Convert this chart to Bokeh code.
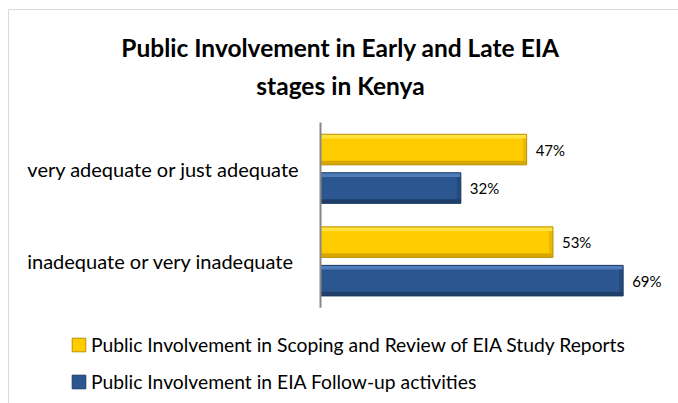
from bokeh.plotting import figure
from bokeh.models import Range1d, Label, Legend, LegendItem, ColumnDataSource, BoxAnnotation
from bokeh.core.properties import value
from bokeh.embed import file_html
from bokeh.resources import INLINE

categories = ["very adequate or just adequate", "inadequate  or very inadequate"]
scoping = [47, 53]
followup = [32, 69]
series_names = [
    "Public Involvement in Scoping and Review of EIA Study Reports",
    "Public Involvement in EIA Follow-up activities",
]
title_lines = ["Public Involvement in Early and Late EIA", "stages in Kenya"]

FONT = "Lato"
W, H = 678, 403

n = len(categories)
cat_y = [n - i - 0.5 for i in range(n)]
off = 0.208
bar_h = 0.33
strip = 0.045   # bevel strip thickness (category units)
rstrip = 0.9    # right bevel width (percent units)

src = ColumnDataSource(dict(
    cat=categories,
    cy=cat_y,
    y_scoping=[y + off for y in cat_y],
    y_followup=[y - off for y in cat_y],
    scoping=scoping,
    followup=followup,
    scoping_lbl=[f"{v}%" for v in scoping],
    followup_lbl=[f"{v}%" for v in followup],
))

px_per_pct = 4.386
px_per_cat = 92.6
x0_px = 320
top_px = 122
p = figure(
    width=W, height=H,
    x_range=Range1d(-x0_px / px_per_pct, (W - x0_px) / px_per_pct),
    y_range=Range1d(n - (H - top_px) / px_per_cat, n + top_px / px_per_cat),
    output_backend="svg", toolbar_location=None,
    min_border=0,
)
p.axis.visible = False
p.grid.visible = False
p.outline_line_color = None
p.background_fill_color = "white"
p.border_fill_color = "white"


def bevel_bar(ycol, vcol, main, light, dark, edge):
    from bokeh.transform import dodge
    main_r = p.hbar(y=ycol, left=0, right=vcol, height=bar_h,
                    fill_color=main, line_color=None, source=src)
    p.hbar(y=dodge(ycol, bar_h / 2 - strip / 2), left=0, right=vcol, height=strip,
           fill_color=light, line_color=None, source=src)
    p.hbar(y=dodge(ycol, -bar_h / 2 + strip / 2), left=0, right=vcol, height=strip,
           fill_color=dark, line_color=None, source=src)
    p.hbar(y=ycol, left=dodge(vcol, -rstrip), right=vcol, height=bar_h - 2 * strip,
           fill_color=dark, fill_alpha=0.55, line_color=None, source=src)
    edge_r = p.hbar(y=ycol, left=0, right=vcol, height=bar_h,
                    fill_alpha=0, line_color=edge, line_width=1, source=src)
    return [main_r, edge_r]


r1 = bevel_bar("y_scoping", "scoping", "#FFCC00", "#FFE23A", "#D9A800", "#B8900A")
r2 = bevel_bar("y_followup", "followup", "#2C5690", "#4F7DBB", "#1F3F68", "#1D3B63")

p.segment(x0=0, y0=0, x1=0, y1=n, line_color="#868686", line_width=2)
p.text(x=0, y="cy", text="cat", source=src, x_offset=-21,
       text_align="right", text_baseline="middle",
       text_font=value(FONT), text_font_size="20px", text_color="black")

p.text(x="scoping", y="y_scoping", text="scoping_lbl", source=src,
       x_offset=9, text_baseline="middle", text_align="left",
       text_font=value(FONT), text_font_size="15px", text_color="black")
p.text(x="followup", y="y_followup", text="followup_lbl", source=src,
       x_offset=9, text_baseline="middle", text_align="left",
       text_font=value(FONT), text_font_size="15px", text_color="black")

legend = Legend(
    items=[LegendItem(label=series_names[0], renderers=r1),
           LegendItem(label=series_names[1], renderers=r2)],
    location=(70, 10),
    orientation="vertical",
    glyph_width=17, glyph_height=17, label_height=17,
    label_standoff=4, spacing=14, padding=0, margin=0,
    border_line_color=None, background_fill_alpha=0,
    label_text_font=FONT, label_text_font_size="19.3px", label_text_color="black",
)
p.add_layout(legend, "center")

for i, line in enumerate(title_lines):
    p.add_layout(Label(x=340, y=H - 47 - 38 * i, x_units="screen", y_units="screen", text=line,
                       text_align="center", text_baseline="middle",
                       text_font=FONT, text_font_size="24.5px", text_font_style="bold",
                       text_color="black"))

p.add_layout(BoxAnnotation(left=8, right=W + 20, top=H - 9, bottom=-20,
                           left_units="screen", right_units="screen",
                           top_units="screen", bottom_units="screen",
                           fill_alpha=0, line_color="#888888", line_width=1))

open("out.html", "w").write(file_html(p, INLINE))
